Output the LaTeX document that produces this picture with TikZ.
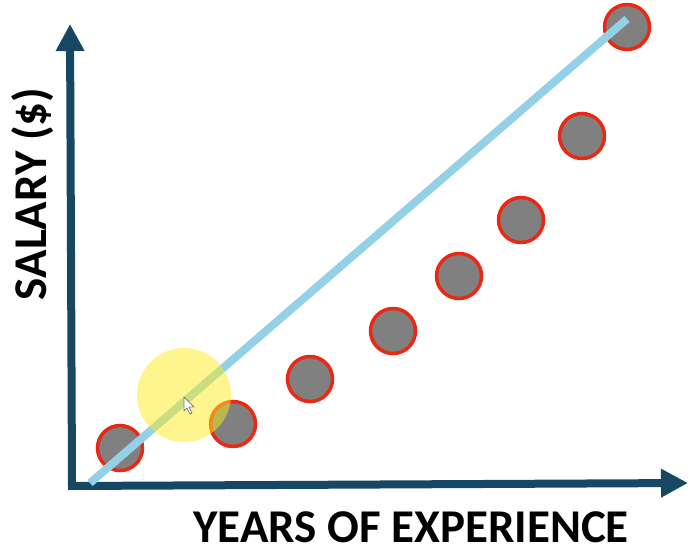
\documentclass[tikz,border=0pt]{standalone}
\usepackage{fontspec}
\setmainfont{Carlito}
\usetikzlibrary{arrows.meta}
\definecolor{axisblue}{RGB}{22,72,100}
\definecolor{fitblue}{RGB}{148,208,230}
\definecolor{dotred}{RGB}{235,40,20}
\definecolor{dotgray}{RGB}{128,128,128}
\definecolor{glow}{RGB}{255,235,30}
\begin{document}
\begin{tikzpicture} [x=1pt,y=-1pt,
    dot/.style={circle,draw=dotred,line width=3.5pt,fill=dotgray,minimum size=45pt,inner sep=0pt},
    axis/.style={axisblue,line width=8pt,-{Triangle[length=27pt,width=27pt]}},
    lbl/.style={font=\bfseries\fontsize{47}{47}\selectfont,inner sep=0pt}]
\useasboundingbox (0,0) rectangle (700,554);
%axes
        \coordinate (o) at (72,486);
        \coordinate (ytop) at (70,24);
        \coordinate (xend) at (688,483);
        \draw [axis] ([yshift=4pt]o) -- (ytop);
        \draw [axis] ([xshift=-4pt]o) -- (xend);
        \node[lbl,anchor=base] (xl) at (411,542) {YEARS OF EXPERIENCE};
        \node[lbl,anchor=base,rotate=90] (yl) at (46,194) {SALARY (\$)};

%data
        \node[dot] (d1) at (120,448) {};
        \node[dot] (d2) at (233,424) {};
        \node[dot] (d3) at (310,379) {};
        \node[dot] (d4) at (393,331) {};
        \node[dot] (d5) at (459,276) {};
        \node[dot] (d6) at (521,220) {};
        \node[dot] (d7) at (582,136) {};
        \node[dot] (d8) at (627,27) {};

%fit
        \coordinate (f0) at (90,483);
        \coordinate (f1) at (627,19);
        \draw [ color = fitblue, line width=8pt ] (f0) -- (f1);

%pointer
        \fill [glow, opacity=.5] (184,395) circle (47);
        \coordinate (tip) at (184,397);
        \draw [ gray, fill=white, line width=.8pt, line join=round ] (tip) -- ++(0,14) -- ++(3,-3) -- ++(3,6) -- ++(2,-1) -- ++(-3,-6) -- ++(5,0) -- cycle;
    \end{tikzpicture}
\end{document}
